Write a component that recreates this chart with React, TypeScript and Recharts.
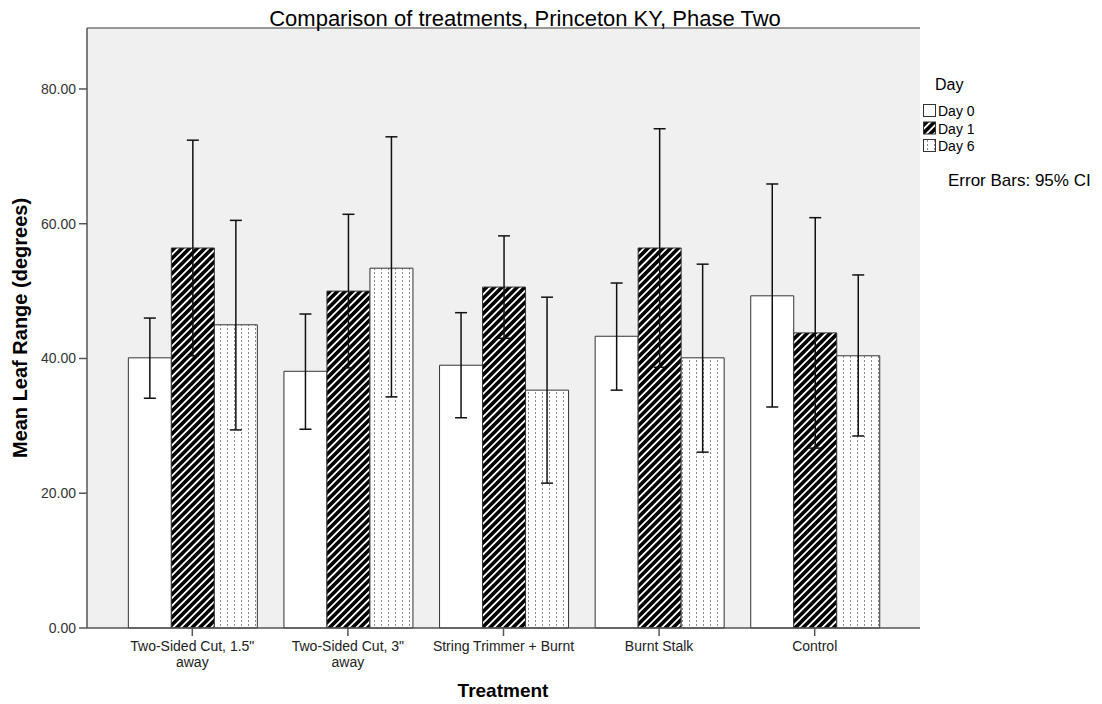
import { BarChart, Bar, XAxis, YAxis, CartesianGrid, ErrorBar } from 'recharts'

const CATEGORIES = [
  'Two-Sided Cut, 1.5" away',
  'Two-Sided Cut, 3" away',
  'String Trimmer + Burnt',
  'Burnt Stalk',
  'Control',
]
// tick labels as they wrap in the original
const TICK_LINES = [
  ['Two-Sided Cut, 1.5"', 'away'],
  ['Two-Sided Cut, 3"', 'away'],
  ['String Trimmer + Burnt'],
  ['Burnt Stalk'],
  ['Control'],
]

const DAY0_MEAN = [40.1, 38.1, 39.0, 43.3, 49.3]
const DAY0_LOW = [34.1, 29.5, 31.2, 35.3, 32.8]
const DAY0_HIGH = [46.0, 46.6, 46.8, 51.2, 65.9]

const DAY1_MEAN = [56.4, 50.0, 50.6, 56.4, 43.8]
const DAY1_LOW = [40.4, 38.6, 43.0, 38.7, 26.7]
const DAY1_HIGH = [72.4, 61.4, 58.2, 74.1, 60.9]

const DAY6_MEAN = [45.0, 53.4, 35.3, 40.1, 40.4]
const DAY6_LOW = [29.4, 34.3, 21.5, 26.1, 28.5]
const DAY6_HIGH = [60.5, 72.9, 49.1, 54.0, 52.4]

const Y_TICKS = [0, 20, 40, 60, 80]

const FONT = '"Liberation Sans", Arial, sans-serif'
const AXIS = '#555'

// ErrorBar wants [below, above] offsets from the mean
const data = CATEGORIES.map((name, i) => ({
  name,
  d0: DAY0_MEAN[i],
  e0: [DAY0_MEAN[i] - DAY0_LOW[i], DAY0_HIGH[i] - DAY0_MEAN[i]],
  d1: DAY1_MEAN[i],
  e1: [DAY1_MEAN[i] - DAY1_LOW[i], DAY1_HIGH[i] - DAY1_MEAN[i]],
  d6: DAY6_MEAN[i],
  e6: [DAY6_MEAN[i] - DAY6_LOW[i], DAY6_HIGH[i] - DAY6_MEAN[i]],
}))

function Patterns({ suffix = '' }: { suffix?: string }) {
  return (
    <defs>
      <pattern
        id={'hatch' + suffix}
        width="5.4"
        height="5.4"
        patternUnits="userSpaceOnUse"
        patternTransform="rotate(45)"
      >
        <rect width="5.4" height="5.4" fill="#fff" />
        <rect width="3.6" height="5.4" fill="#000" />
      </pattern>
      <pattern id={'dots' + suffix} width="7" height="4" patternUnits="userSpaceOnUse">
        <rect width="7" height="4" fill="#fff" />
        <rect x="3" y="0" width="1" height="2" fill="#8a8a8a" />
      </pattern>
    </defs>
  )
}

function TreatmentTick(props: any) {
  const { x, y, payload } = props
  const lines = TICK_LINES[payload.index] ?? [payload.value]
  return (
    <text x={x} y={y} textAnchor="middle" fontSize={14} fontFamily={FONT} fill="#222">
      {lines.map((l: string, i: number) => (
        <tspan key={i} x={x} dy={i === 0 ? 13 : 16}>
          {l}
        </tspan>
      ))}
    </text>
  )
}

export default function App() {
  return (
    <div
      style={{
        position: 'absolute',
        left: 0,
        top: 0,
        width: 1102,
        height: 704,
        background: '#fff',
        fontFamily: FONT,
      }}
    >
      <BarChart
        width={1102}
        height={704}
        data={data}
        margin={{ top: 27, right: 182, bottom: 26, left: 20 }}
        barCategoryGap="8.9%"
        barGap={0}
      >
        <Patterns />
        <CartesianGrid fill="#f0f0f0" horizontal={false} vertical={false} />
        <XAxis
          dataKey="name"
          height={50}
          padding={{ left: 27.5, right: 27.5 }}
          tick={<TreatmentTick />}
          tickSize={8}
          interval={0}
          stroke={AXIS}
          axisLine={{ stroke: AXIS, strokeWidth: 1.5 }}
          tickLine={{ stroke: AXIS, strokeWidth: 1.5 }}
          label={{
            content: () => (
              <text x={503} y={697} textAnchor="middle" fontSize={19} fontWeight="bold" fontFamily={FONT} fill="#000">
                Treatment
              </text>
            ),
          }}
        />
        <XAxis
          xAxisId="top"
          dataKey="name"
          orientation="top"
          height={1}
          tick={false}
          tickLine={false}
          axisLine={{ stroke: '#777', strokeWidth: 1.5 }}
        />
        <YAxis
          width={67}
          domain={[0, 89.05]}
          ticks={Y_TICKS}
          tickFormatter={(v: number) => v.toFixed(2)}
          tick={{ fontSize: 14, fill: '#333', fontFamily: FONT }}
          tickSize={8}
          tickMargin={3}
          axisLine={{ stroke: AXIS, strokeWidth: 1.5 }}
          tickLine={{ stroke: AXIS, strokeWidth: 1.5 }}
          label={{
            content: () => (
              <text
                x={27}
                y={328}
                transform="rotate(-90, 27, 328)"
                textAnchor="middle"
                fontSize={20}
                fontWeight="bold"
                fontFamily={FONT}
                fill="#000"
              >
                Mean Leaf Range (degrees)
              </text>
            ),
          }}
        />
        <YAxis
          yAxisId="right"
          orientation="right"
          width={0}
          domain={[0, 89.05]}
          tick={false}
          tickLine={false}
          axisLine={{ stroke: AXIS, strokeWidth: 1.5 }}
        />
        <Bar dataKey="d0" name="Day 0" fill="#fff" stroke="#333" strokeWidth={1} isAnimationActive={false}>
          <ErrorBar dataKey="e0" width={6} stroke="#111" strokeWidth={1.5} isAnimationActive={false} />
        </Bar>
        <Bar dataKey="d1" name="Day 1" fill="url(#hatch)" stroke="#333" strokeWidth={1} isAnimationActive={false}>
          <ErrorBar dataKey="e1" width={6} stroke="#111" strokeWidth={1.5} isAnimationActive={false} />
        </Bar>
        <Bar dataKey="d6" name="Day 6" fill="url(#dots)" stroke="#333" strokeWidth={1} isAnimationActive={false}>
          <ErrorBar dataKey="e6" width={6} stroke="#111" strokeWidth={1.5} isAnimationActive={false} />
        </Bar>
      </BarChart>

      {/* title + legend drawn over the chart */}
      <svg
        width={1102}
        height={704}
        style={{ position: 'absolute', left: 0, top: 0, pointerEvents: 'none' }}
      >
        <Patterns suffix="L" />
        <text x={525} y={26} textAnchor="middle" fontSize={22} fontFamily={FONT} fill="#000">
          Comparison of treatments, Princeton KY, Phase Two
        </text>
        <text x={935} y={90} fontSize={16} fontFamily={FONT} fill="#000">
          Day
        </text>
        {['Day 0', 'Day 1', 'Day 6'].map((d, i) => (
          <g key={d}>
            <rect
              x={923.5}
              y={104.5 + i * 17.5}
              width={12}
              height={12}
              fill={i === 0 ? '#fff' : i === 1 ? 'url(#hatchL)' : 'url(#dotsL)'}
              stroke="#333"
            />
            <text x={938} y={116 + i * 17.5} fontSize={14} fontFamily={FONT} fill="#000">
              {d}
            </text>
          </g>
        ))}
        <text x={948} y={186} fontSize={17} fontFamily={FONT} fill="#000">
          Error Bars: 95% CI
        </text>
      </svg>
    </div>
  )
}
